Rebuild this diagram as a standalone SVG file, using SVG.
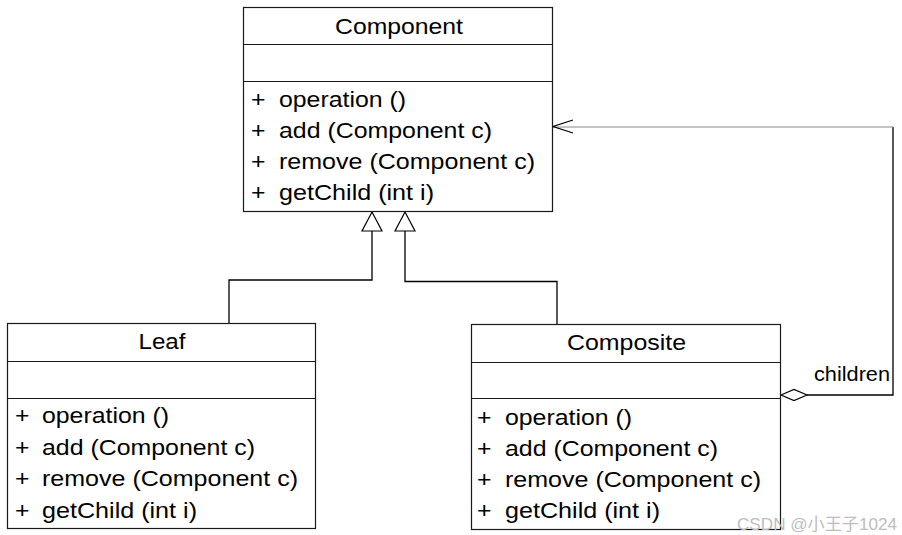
<svg xmlns="http://www.w3.org/2000/svg" width="902" height="535" viewBox="0 0 902 535">
<style>
  .box { fill: #ffffff; stroke: #1a1a1a; stroke-width: 1.2; }
  .div { stroke: #1a1a1a; stroke-width: 1.2; }
  text { font-family: "Liberation Sans", Arial, sans-serif; font-size: 22px; fill: #000000; }
  .t { text-anchor: middle; }
  .lbl { font-size: 20px; }
  .wm { font-family: "Liberation Sans", "Noto Sans CJK SC", sans-serif; font-size: 17px; fill: #bdbdbd; }
  .edge { fill: none; stroke: #000000; stroke-width: 1.3; }
  .assoc { fill: none; stroke: #8a8a8a; stroke-width: 1.2; }
  .head { fill: #ffffff; stroke: #000000; stroke-width: 1.2; }
</style>
<rect width="902" height="535" fill="#ffffff"/>

<g id="connectors">
  <path class="edge" d="M229,323 V280 H372 V231"/>
  <polygon class="head" points="372,212 362,231 382,231"/>
  <path class="edge" d="M557,324 V281.5 H405 V231"/>
  <polygon class="head" points="405,212 395,231 415,231"/>
  <path class="edge" d="M807,395 H893 V127"/>
  <path class="assoc" d="M893,127 H553"/>
  <polyline fill="none" stroke="#000" stroke-width="1.3" points="573,120 553,126.5 573,133"/>
  <polygon class="head" points="781,395 794,389.5 807,395 794,400.5"/>
  <text class="lbl" x="814" y="381" textLength="76" lengthAdjust="spacingAndGlyphs">children</text>
</g>

<g id="component">
  <rect class="box" x="243.5" y="7.5" width="309" height="204"/>
  <line class="div" x1="243.5" y1="44.5" x2="552.5" y2="44.5"/>
  <line class="div" x1="243.5" y1="81.5" x2="552.5" y2="81.5"/>
  <text class="t" x="399" y="34" textLength="128" lengthAdjust="spacingAndGlyphs">Component</text>
  <text x="251" y="107" textLength="14.5" lengthAdjust="spacingAndGlyphs">+</text>
  <text x="279" y="107" textLength="127" lengthAdjust="spacingAndGlyphs">operation ()</text>
  <text x="251" y="138" textLength="14.5" lengthAdjust="spacingAndGlyphs">+</text>
  <text x="279" y="138" textLength="213" lengthAdjust="spacingAndGlyphs">add (Component c)</text>
  <text x="251" y="169" textLength="14.5" lengthAdjust="spacingAndGlyphs">+</text>
  <text x="279" y="169" textLength="256" lengthAdjust="spacingAndGlyphs">remove (Component c)</text>
  <text x="251" y="200" textLength="14.5" lengthAdjust="spacingAndGlyphs">+</text>
  <text x="279" y="200" textLength="155" lengthAdjust="spacingAndGlyphs">getChild (int i)</text>
</g>

<g id="leaf">
  <rect class="box" x="7.5" y="323.5" width="308" height="205"/>
  <line class="div" x1="7.5" y1="361.5" x2="315.5" y2="361.5"/>
  <line class="div" x1="7.5" y1="398.5" x2="315.5" y2="398.5"/>
  <text class="t" x="162" y="349" textLength="47" lengthAdjust="spacingAndGlyphs">Leaf</text>
  <text x="15" y="423" textLength="14.5" lengthAdjust="spacingAndGlyphs">+</text>
  <text x="42" y="423" textLength="127" lengthAdjust="spacingAndGlyphs">operation ()</text>
  <text x="15" y="454.5" textLength="14.5" lengthAdjust="spacingAndGlyphs">+</text>
  <text x="42" y="454.5" textLength="213" lengthAdjust="spacingAndGlyphs">add (Component c)</text>
  <text x="15" y="486" textLength="14.5" lengthAdjust="spacingAndGlyphs">+</text>
  <text x="42" y="486" textLength="256" lengthAdjust="spacingAndGlyphs">remove (Component c)</text>
  <text x="15" y="517.5" textLength="14.5" lengthAdjust="spacingAndGlyphs">+</text>
  <text x="42" y="517.5" textLength="155" lengthAdjust="spacingAndGlyphs">getChild (int i)</text>
</g>

<g id="composite">
  <rect class="box" x="471.5" y="324.5" width="309" height="205"/>
  <line class="div" x1="471.5" y1="362.5" x2="780.5" y2="362.5"/>
  <line class="div" x1="471.5" y1="398.5" x2="780.5" y2="398.5"/>
  <text class="t" x="626.5" y="350" textLength="119" lengthAdjust="spacingAndGlyphs">Composite</text>
  <text x="477" y="425" textLength="14.5" lengthAdjust="spacingAndGlyphs">+</text>
  <text x="505" y="425" textLength="127" lengthAdjust="spacingAndGlyphs">operation ()</text>
  <text x="477" y="456" textLength="14.5" lengthAdjust="spacingAndGlyphs">+</text>
  <text x="505" y="456" textLength="213" lengthAdjust="spacingAndGlyphs">add (Component c)</text>
  <text x="477" y="487" textLength="14.5" lengthAdjust="spacingAndGlyphs">+</text>
  <text x="505" y="487" textLength="256" lengthAdjust="spacingAndGlyphs">remove (Component c)</text>
  <text x="477" y="518" textLength="14.5" lengthAdjust="spacingAndGlyphs">+</text>
  <text x="505" y="518" textLength="155" lengthAdjust="spacingAndGlyphs">getChild (int i)</text>
</g>

<text class="wm" x="737" y="530" textLength="160" lengthAdjust="spacingAndGlyphs">CSDN @小王子1024</text>
</svg>
